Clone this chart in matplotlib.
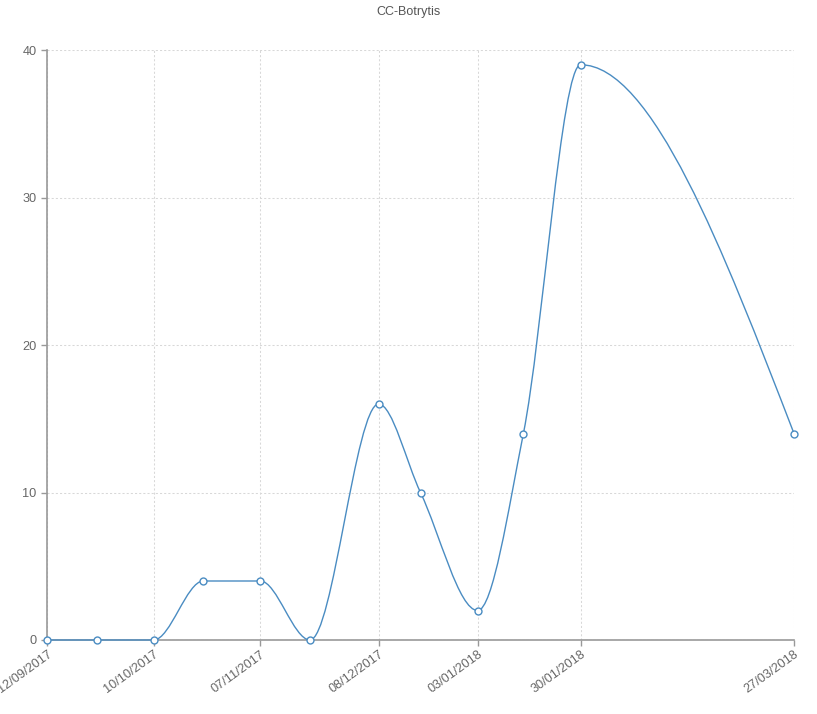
import numpy as np
import matplotlib
matplotlib.use("Agg")
import matplotlib.pyplot as plt
import matplotlib.dates as mdates
from matplotlib.path import Path
from matplotlib.patches import PathPatch
from datetime import datetime

# ─── Data ──────────────────────────────────────────────────────────────────
dates = ["12/09/2017", "25/09/2017", "10/10/2017", "23/10/2017", "07/11/2017",
         "20/11/2017", "08/12/2017", "19/12/2017", "03/01/2018", "15/01/2018",
         "30/01/2018", "27/03/2018"]
values = [0, 0, 0, 4, 4, 0, 16, 10, 2, 14, 39, 14]
tick_dates = ["12/09/2017", "10/10/2017", "07/11/2017", "08/12/2017",
              "03/01/2018", "30/01/2018", "27/03/2018"]
y_ticks = [0, 10, 20, 30, 40]

LINE = "#4a8cc2"
AXC = "#999999"
TXT = "#666666"


def to_num(ds):
    return np.array([mdates.date2num(datetime.strptime(d, "%d/%m/%Y")) for d in ds])


def monotone_path(x, y):
    """Bezier path like d3.curveMonotoneX."""
    n = len(x)
    h = np.diff(x)
    s = np.diff(y) / h
    t = np.zeros(n)
    for i in range(1, n - 1):
        p = (s[i - 1] * h[i] + s[i] * h[i - 1]) / (h[i - 1] + h[i])
        t[i] = (np.sign(s[i - 1]) + np.sign(s[i])) * min(abs(s[i - 1]), abs(s[i]), 0.5 * abs(p))
    t[0] = (3 * s[0] - t[1]) / 2
    t[-1] = (3 * s[-1] - t[-2]) / 2
    verts = [(x[0], y[0])]
    codes = [Path.MOVETO]
    for i in range(n - 1):
        dx = h[i] / 3
        verts += [(x[i] + dx, y[i] + dx * t[i]),
                  (x[i + 1] - dx, y[i + 1] - dx * t[i + 1]),
                  (x[i + 1], y[i + 1])]
        codes += [Path.CURVE4] * 3
    return Path(verts, codes)


x = to_num(dates)
y = np.array(values, dtype=float)
xt = to_num(tick_dates)

plt.rcParams['font.family'] = ['Liberation Sans', 'DejaVu Sans']

fig = plt.figure(figsize=(8.17, 7.14), dpi=100)
ax = fig.add_axes([47 / 817, 1 - 640 / 714, (794 - 47) / 817, (640 - 50) / 714])

ax.add_patch(PathPatch(monotone_path(x, y), facecolor='none', edgecolor=LINE,
                       linewidth=1.0, zorder=3, clip_on=False))
ax.plot(x, y, linestyle='none', marker='o', markersize=5, markerfacecolor='white',
        markeredgecolor=LINE, markeredgewidth=1.0, zorder=4, clip_on=False)

ax.set_xlim(x[0], x[-1])
ax.set_ylim(0, 40)
ax.set_xticks(xt)
ax.set_xticklabels(tick_dates, rotation=36, ha='right', rotation_mode='anchor')
ax.set_yticks(y_ticks)

ax.grid(True, color='#d8d8d8', linestyle=(0, (2, 2)), linewidth=0.75)
ax.set_axisbelow(True)
for side in ['top', 'right']:
    ax.spines[side].set_visible(False)
for side in ['left', 'bottom']:
    ax.spines[side].set_color(AXC)
    ax.spines[side].set_linewidth(1.2)
ax.tick_params(axis='both', colors=AXC, labelcolor=TXT, labelsize=9.2, length=4, width=1)
ax.tick_params(axis='x', pad=2)

fig.text(0.5, 1 - 12 / 714, "CC-Botrytis", ha='center', va='center', fontsize=9, color='#555555')

fig.savefig("out.png", dpi=100)
